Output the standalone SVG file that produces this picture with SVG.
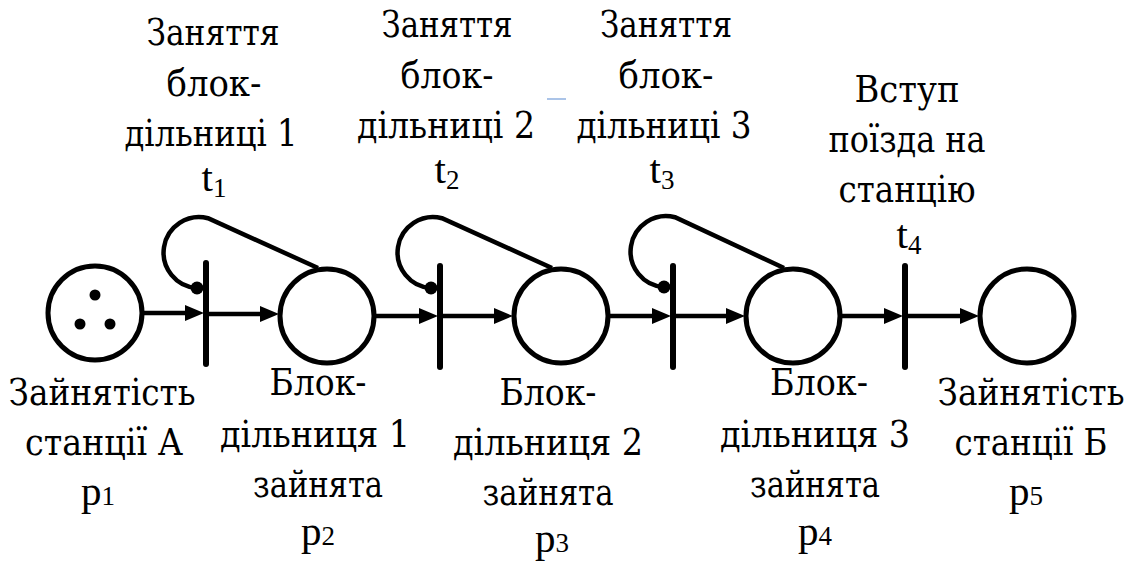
<svg xmlns="http://www.w3.org/2000/svg" width="1129" height="562" viewBox="0 0 1129 562">
  <style>
    .lbl { font-family: "Liberation Serif", "DejaVu Serif", serif; font-size: 41px; fill: #000; text-anchor: middle; }
    .cyr { font-family: "DejaVu Serif Condensed", "DejaVu Serif", serif; font-size: 37px; fill: #000; text-anchor: middle; }
    .sub { font-size: 27px; }
    .place { fill: #fff; stroke: #000; stroke-width: 5; }
    .bar { stroke: #000; stroke-width: 6; stroke-linecap: round; }
    .arc { fill: none; stroke: #000; stroke-width: 4.5; }
    .tok { fill: #000; }
  </style>
  <defs>
    <marker id="ah" markerWidth="19" markerHeight="16" refX="8" refY="8" orient="auto" markerUnits="userSpaceOnUse">
      <path d="M0,0 L19,8 L0,16 z" fill="#000"/>
    </marker>
  </defs>
  <rect width="1129" height="562" fill="#fff"/>

  <!-- connectors -->
  <g id="connectors">
    <!-- forward arcs -->
    <path class="arc" d="M142 313 L193 313" marker-end="url(#ah)"/>
    <path class="arc" d="M206 314 L268 314" marker-end="url(#ah)"/>
    <path class="arc" d="M376 316 L427 316" marker-end="url(#ah)"/>
    <path class="arc" d="M440 316 L502 316" marker-end="url(#ah)"/>
    <path class="arc" d="M610 316 L660 316" marker-end="url(#ah)"/>
    <path class="arc" d="M673 316 L734 316" marker-end="url(#ah)"/>
    <path class="arc" d="M842 316 L892 316" marker-end="url(#ah)"/>
    <path class="arc" d="M905 316 L968 316" marker-end="url(#ah)"/>
    <!-- read-back loops from each section place to its transition -->
    <path class="arc" d="M318 268 L208 218.2 A35.5 35.5 0 1 0 197 288"/>
    <circle class="tok" cx="197" cy="288" r="6.5"/>
    <path class="arc" d="M552 268 L442 218.2 A35.5 35.5 0 1 0 431 288"/>
    <circle class="tok" cx="431" cy="288" r="6.5"/>
    <path class="arc" d="M784 268 L675 217.2 A35.5 35.5 0 1 0 664 287"/>
    <circle class="tok" cx="664" cy="287" r="6.5"/>
  </g>

  <!-- places -->
  <g id="p1">
    <circle class="place" cx="95" cy="313" r="47"/>
    <circle class="tok" cx="95" cy="295" r="5.5"/>
    <circle class="tok" cx="80" cy="324" r="5.5"/>
    <circle class="tok" cx="110" cy="324" r="5.5"/>
    <text class="cyr" x="102" y="405" textLength="187" lengthAdjust="spacingAndGlyphs">Зайнятість</text>
    <text class="cyr" x="104" y="455" textLength="158" lengthAdjust="spacingAndGlyphs">станції А</text>
    <text class="lbl" x="98" y="505">p<tspan class="sub">1</tspan></text>
  </g>
  <g id="p2">
    <circle class="place" cx="327" cy="316" r="47"/>
    <text class="cyr" x="318" y="395" textLength="97" lengthAdjust="spacingAndGlyphs">Блок-</text>
    <text class="cyr" x="315" y="447" textLength="190" lengthAdjust="spacingAndGlyphs">дільниця 1</text>
    <text class="cyr" x="318" y="497" textLength="130" lengthAdjust="spacingAndGlyphs">зайнята</text>
    <text class="lbl" x="318" y="545">p<tspan class="sub">2</tspan></text>
  </g>
  <g id="p3">
    <circle class="place" cx="561" cy="316" r="47"/>
    <text class="cyr" x="548" y="405" textLength="97" lengthAdjust="spacingAndGlyphs">Блок-</text>
    <text class="cyr" x="548" y="455" textLength="190" lengthAdjust="spacingAndGlyphs">дільниця 2</text>
    <text class="cyr" x="548" y="505" textLength="131" lengthAdjust="spacingAndGlyphs">зайнята</text>
    <text class="lbl" x="552" y="552">p<tspan class="sub">3</tspan></text>
  </g>
  <g id="p4">
    <circle class="place" cx="793" cy="316" r="47"/>
    <text class="cyr" x="819" y="395" textLength="98" lengthAdjust="spacingAndGlyphs">Блок-</text>
    <text class="cyr" x="815" y="447" textLength="190" lengthAdjust="spacingAndGlyphs">дільниця 3</text>
    <text class="cyr" x="815" y="497" textLength="130" lengthAdjust="spacingAndGlyphs">зайнята</text>
    <text class="lbl" x="815" y="545">p<tspan class="sub">4</tspan></text>
  </g>
  <g id="p5">
    <circle class="place" cx="1027" cy="316" r="47"/>
    <text class="cyr" x="1031" y="405" textLength="187" lengthAdjust="spacingAndGlyphs">Зайнятість</text>
    <text class="cyr" x="1031" y="455" textLength="153" lengthAdjust="spacingAndGlyphs">станції Б</text>
    <text class="lbl" x="1026" y="505">p<tspan class="sub">5</tspan></text>
  </g>

  <!-- transitions -->
  <g id="t1">
    <line class="bar" x1="206" y1="263" x2="206" y2="364"/>
    <text class="cyr" x="213" y="45" textLength="133" lengthAdjust="spacingAndGlyphs">Заняття</text>
    <text class="cyr" x="214" y="96" textLength="95" lengthAdjust="spacingAndGlyphs">блок-</text>
    <text class="cyr" x="211" y="146" textLength="173" lengthAdjust="spacingAndGlyphs">дільниці 1</text>
    <text class="lbl" x="214" y="191">t<tspan class="sub" dy="6">1</tspan></text>
  </g>
  <g id="t2">
    <line class="bar" x1="440" y1="266" x2="440" y2="367"/>
    <text class="cyr" x="447" y="37" textLength="131" lengthAdjust="spacingAndGlyphs">Заняття</text>
    <text class="cyr" x="447" y="88" textLength="93" lengthAdjust="spacingAndGlyphs">блок-</text>
    <text class="cyr" x="446" y="138" textLength="178" lengthAdjust="spacingAndGlyphs">дільниці 2</text>
    <text class="lbl" x="447" y="183">t<tspan class="sub" dy="6">2</tspan></text>
  </g>
  <g id="t3">
    <line class="bar" x1="673" y1="266" x2="673" y2="367"/>
    <text class="cyr" x="666" y="37" textLength="132" lengthAdjust="spacingAndGlyphs">Заняття</text>
    <text class="cyr" x="666" y="88" textLength="95" lengthAdjust="spacingAndGlyphs">блок-</text>
    <text class="cyr" x="664" y="138" textLength="175" lengthAdjust="spacingAndGlyphs">дільниці 3</text>
    <text class="lbl" x="662" y="183">t<tspan class="sub" dy="6">3</tspan></text>
  </g>
  <g id="t4">
    <line class="bar" x1="905" y1="266" x2="905" y2="367"/>
    <text class="cyr" x="907" y="102" textLength="105" lengthAdjust="spacingAndGlyphs">Вступ</text>
    <text class="cyr" x="907" y="152" textLength="157" lengthAdjust="spacingAndGlyphs">поїзда на</text>
    <text class="cyr" x="907" y="202" textLength="137" lengthAdjust="spacingAndGlyphs">станцію</text>
    <text class="lbl" x="909" y="248">t<tspan class="sub" dy="6">4</tspan></text>
  </g>

  <!-- short light-blue stroke between the second and third headings -->
  <line x1="547" y1="99" x2="566" y2="99" stroke="#8fb0e0" stroke-width="1.5"/>
</svg>
